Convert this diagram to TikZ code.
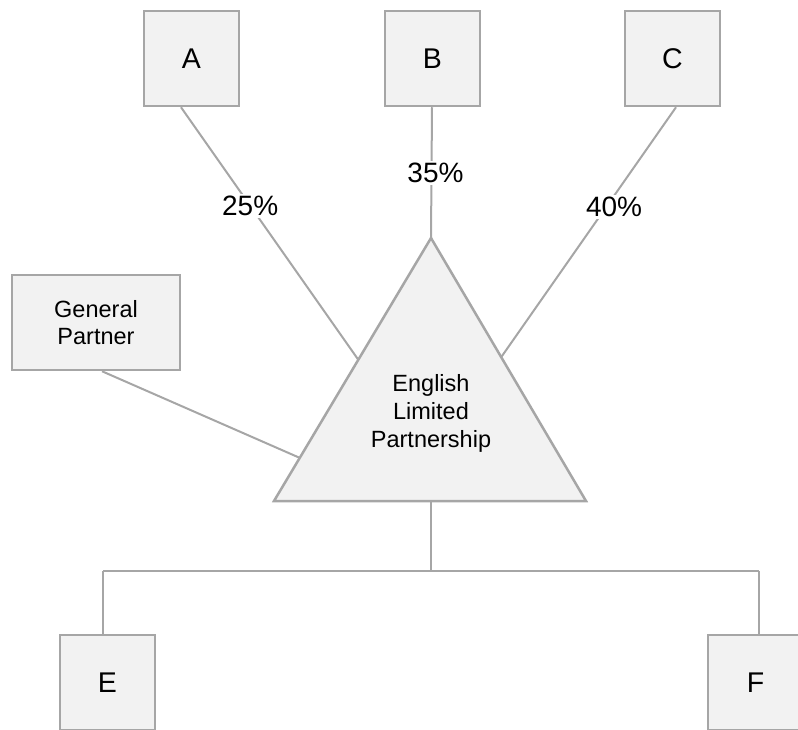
\documentclass[tikz,border=0pt]{standalone}
\usepackage{fontspec}
\setmainfont{Liberation Sans}
\usetikzlibrary{calc}
\definecolor{boxfill}{HTML}{F2F2F2}
\definecolor{edgegray}{HTML}{A6A6A6}
\begin{document}
\begin{tikzpicture}[x=1pt,y=-1pt,
  sqbox/.style={draw=edgegray,fill=boxfill,line width=2.5pt,minimum width=95pt,minimum height=95pt,inner sep=0pt,font=\fontsize{28.5}{33}\selectfont},
  gpbox/.style={draw=edgegray,fill=boxfill,line width=2.5pt,minimum width=168pt,minimum height=95pt,inner sep=0pt,align=center,font=\fontsize{23.5}{27}\selectfont},
  link/.style={draw=edgegray,line width=2pt},
  pct/.style={fill=white,inner sep=2pt,font=\fontsize{28}{33}\selectfont}]
\useasboundingbox (0,0) rectangle (798,730);
\clip (0,0) rectangle (798,730);
% triangle
\coordinate (Tap) at (431,238);
\coordinate (Tbl) at (274,501);
\coordinate (Tbr) at (586,501);
\draw[draw=edgegray,fill=boxfill,line width=2.5pt,line join=miter] (Tap) -- (Tbl) -- (Tbr) -- cycle;
\node[align=center,font=\fontsize{23.5}{28}\selectfont] (T) at (431,413) {English\\Limited\\Partnership};
\coordinate (TA) at ($(Tap)!0.463!(Tbl)$);
\coordinate (TC) at ($(Tap)!0.453!(Tbr)$);
\coordinate (TG) at ($(Tap)!0.836!(Tbl)$);
\coordinate (Tb) at (431,501);
% boxes
\node[sqbox] (A) at (191.5,58.5) {A};
\node[sqbox] (B) at (432.5,58.5) {B};
\node[sqbox] (C) at (672.5,58.5) {C};
\node[gpbox] (GP) at (96,322.5) {General\\Partner};
\node[sqbox] (E) at (107.5,682.5) {E};
\node[sqbox] (F) at (755.5,682.5) {F};
% connectors
\draw[link] (A.south -| 181,0) -- node[pct,pos=0.39] {25\%} (TA);
\draw[link] (B.south -| 432,0) -- node[pct,pos=0.5,xshift=4pt] {35\%} (Tap);
\draw[link] (C.south -| 676,0) -- node[pct,pos=0.4,xshift=8pt] {40\%} (TC);
\draw[link] (GP.south -| 102,0) -- (TG);
\coordinate (J) at (431,571);
\coordinate (JE) at (103,571);
\coordinate (JF) at (759,571);
\draw[link] (Tb) -- (J);
\draw[link] (JE) -- (JF);
\draw[link] (JE) -- (JE |- E.north);
\draw[link] (JF) -- (JF |- F.north);
\end{tikzpicture}
\end{document}
